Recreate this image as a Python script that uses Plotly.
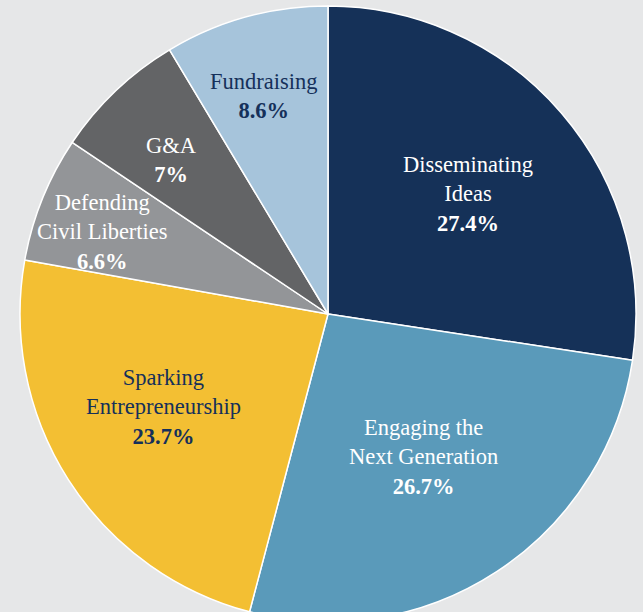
import math
import plotly.graph_objects as go

categories = ["Disseminating<br>Ideas", "Engaging the<br>Next Generation", "Sparking<br>Entrepreneurship",
              "Defending<br>Civil Liberties", "G&A", "Fundraising"]
values = [27.4, 26.7, 23.7, 6.6, 7, 8.6]
colors = ["#153158", "#5a9aba", "#f3bf33", "#939598", "#636466", "#a6c4db"]
text_colors = ["#ffffff", "#ffffff", "#15305a", "#ffffff", "#ffffff", "#15305a"]
# label placement style: distance from centre (fraction of radius) and fine pixel nudges
label_radius = [0.60, 0.565, 0.615, 0.79, 0.735, 0.74]
label_dx = [0, 0, -5, 0, 0, -3]
label_dy = [0, 2, 9, -9, -10, -2]

texts = [f"{c}<br><b>{v:g}%</b>" for c, v in zip(categories, values)]

fig = go.Figure(go.Pie(
    labels=categories,
    values=values,
    textinfo="none",
    sort=False,
    direction="clockwise",
    rotation=0,
    marker=dict(colors=colors, line=dict(color="#ffffff", width=1.5)),
    hoverinfo="skip",
    showlegend=False,
))

total = sum(values)
cum = 0.0
annotations = []
for t, v, col, fr, dx, dy in zip(texts, values, text_colors, label_radius, label_dx, label_dy):
    mid = (cum + v / 2) / total * 2 * math.pi
    cum += v
    annotations.append(dict(
        x=0.5 + 0.5 * fr * math.sin(mid),
        y=0.5 + 0.5 * fr * math.cos(mid),
        xref="paper", yref="paper",
        xshift=dx, yshift=dy,
        text=t, showarrow=False,
        xanchor="center", yanchor="middle", align="center",
        font=dict(family="Liberation Serif", size=22.5, color=col),
    ))

fig.update_layout(
    width=643, height=630,
    margin=dict(l=20, r=7, t=6, b=8),
    paper_bgcolor="#e6e7e8",
    plot_bgcolor="#e6e7e8",
    annotations=annotations,
)

fig.write_html("out.html", config={"displayModeBar": False},
               post_script="document.body.style.margin='0';document.body.style.overflow='hidden';document.documentElement.style.overflow='hidden';")
